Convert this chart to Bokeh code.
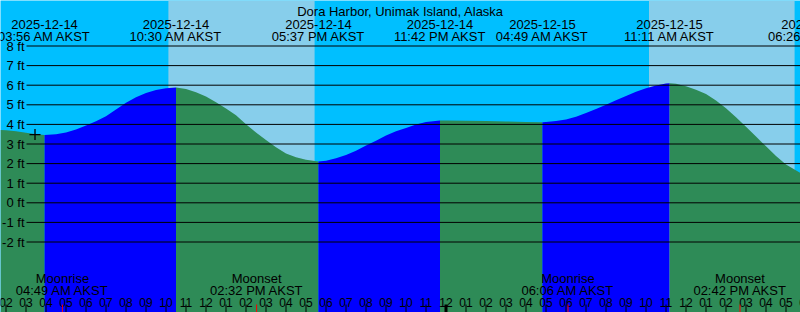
from bokeh.plotting import figure
from bokeh.models import Range1d
from bokeh.core.properties import value
from bokeh.embed import file_html
from bokeh.resources import INLINE

TITLE = "Dora Harbor, Unimak Island, Alaska"

# Tide curve: hours since 2025-12-14 00:00 AKST and height in ft
curve_hours = [1.72, 2, 2.5, 3, 3.5, 3.93, 4.5, 5, 5.5, 6, 6.5, 7, 7.5, 8, 8.5, 9, 9.5,
               10, 10.5, 11, 11.5, 12, 12.5, 13, 13.5, 14, 14.5, 15, 15.5, 16, 16.5,
               17, 17.62, 18, 18.5, 19, 19.5, 20, 20.5, 21, 21.5, 22, 22.5, 23, 23.7,
               24, 25, 26, 27, 28, 28.82, 29, 29.5, 30, 30.5, 31, 31.5, 32, 32.5, 33,
               33.5, 34, 34.5, 35, 35.18, 35.5, 36, 36.5, 37, 37.5, 38, 38.5, 39, 39.5,
               40, 40.5, 41, 41.75, 42.43]
curve_ft = [3.72, 3.70, 3.65, 3.58, 3.50, 3.46, 3.50, 3.59, 3.74, 3.94, 4.16, 4.42,
            4.76, 5.10, 5.38, 5.60, 5.75, 5.84, 5.88, 5.80, 5.64, 5.42, 5.13, 4.81,
            4.47, 4.01, 3.59, 3.20, 2.83, 2.52, 2.32, 2.20, 2.11, 2.15, 2.27, 2.44,
            2.66, 2.92, 3.17, 3.43, 3.65, 3.82, 3.99, 4.12, 4.20, 4.20, 4.19, 4.17,
            4.15, 4.12, 4.11, 4.12, 4.17, 4.25, 4.39, 4.58, 4.78, 5.00, 5.23, 5.45,
            5.66, 5.85, 5.99, 6.09, 6.10, 6.07, 5.95, 5.77, 5.55, 5.22, 4.82, 4.36,
            3.88, 3.38, 2.88, 2.39, 1.95, 1.51, 1.40]

# Tide extremes (hours since 2025-12-14 00:00)
tide_hours = [3.93, 10.5, 17.62, 23.7, 28.82, 35.18, 42.43]
tide_kind = ["low", "high", "low", "high", "low", "high", "low"]
tide_dates = ["2025-12-14", "2025-12-14", "2025-12-14", "2025-12-14",
              "2025-12-15", "2025-12-15", "2025-12-15"]
tide_times = ["03:56 AM AKST", "10:30 AM AKST", "05:37 PM AKST", "11:42 PM AKST",
              "04:49 AM AKST", "11:11 AM AKST", "06:26 PM AKST"]

# Daylight intervals
sunrise_hours = [10.12, 34.15]
sunset_hours = [17.43, 41.43]

# Moon events
moon_hours = [4.82, 14.53, 30.1, 38.7]
moon_names = ["Moonrise", "Moonset", "Moonrise", "Moonset"]
moon_times = ["04:49 AM AKST", "02:32 PM AKST", "06:06 AM AKST", "02:42 PM AKST"]

# Current time marker
now_hour = 3.45
now_ft = 3.48

ft_levels = [-2, -1, 0, 1, 2, 3, 4, 5, 6, 7, 8]
hour_ticks = list(range(2, 43))

# ---- layout constants ----
W, H = 800, 312
PX_PER_HR = 20.0
PX_PER_FT = 19.6
X0 = 5 - 65.5 / PX_PER_HR
X1 = X0 + W / PX_PER_HR
Y_TOP = 8 + 45.5 / PX_PER_FT
Y_BOT = Y_TOP - H / PX_PER_FT


def yat(px):
    return Y_TOP - px / PX_PER_FT


def xat(px):
    return X0 + px / PX_PER_HR


FONT = value("Liberation Sans")
SKY_NIGHT = "#00BFFF"
SKY_DAY = "#87CEEB"
RISE = "#0000FF"
FALL = "#2E8B57"

p = figure(width=W, height=H, x_range=Range1d(X0, X1), y_range=Range1d(Y_BOT, Y_TOP),
           output_backend="svg", toolbar_location=None, x_axis_type=None,
           y_axis_type=None, min_border=0, min_border_left=0, min_border_right=0,
           min_border_top=0, min_border_bottom=0,
           background_fill_color=SKY_NIGHT, border_fill_color=SKY_NIGHT,
           outline_line_color=None)
p.grid.visible = False

# daylight
p.quad(left=sunrise_hours, right=sunset_hours, bottom=Y_BOT, top=Y_TOP,
       fill_color=SKY_DAY, line_color=None)

# tide fills, split at extremes
bounds = [curve_hours[0]] + tide_hours
for i in range(len(bounds) - 1):
    a, b = bounds[i], bounds[i + 1]
    xs = [h for h in curve_hours if a <= h <= b]
    ys = [curve_ft[curve_hours.index(h)] for h in xs]
    color = RISE if tide_kind[i] == "high" else FALL
    p.varea(x=xs, y1=[Y_BOT] * len(xs), y2=ys, fill_color=color)

# grid lines
p.segment(x0=[xat(26)] * len(ft_levels), x1=[X1] * len(ft_levels),
          y0=ft_levels, y1=ft_levels, line_color="black", line_width=1)
p.text(x=[xat(24)] * len(ft_levels), y=ft_levels,
       text=["%d ft" % f for f in ft_levels], text_align="right",
       text_baseline="middle", text_font=FONT, text_font_size="13px",
       text_color="black")

# header
p.text(x=[(X0 + X1) / 2], y=[yat(11.3)], text=[TITLE], text_align="center",
       text_baseline="alphabetic", text_font=FONT, text_font_size="13px",
       text_color="black")
p.text(x=tide_hours, y=[yat(23.5)] * len(tide_hours), text=tide_dates,
       text_align="center", text_baseline="alphabetic", text_font=FONT,
       text_font_size="13px", text_color="black")
p.text(x=tide_hours, y=[yat(35.7)] * len(tide_hours), text=tide_times,
       text_align="center", text_baseline="alphabetic", text_font=FONT,
       text_font_size="13px", text_color="black")

# moon labels
p.text(x=moon_hours, y=[yat(278.3)] * len(moon_hours), text=moon_names,
       text_align="center", text_baseline="alphabetic", text_font=FONT,
       text_font_size="13px", text_color="black")
p.text(x=moon_hours, y=[yat(290.2)] * len(moon_hours), text=moon_times,
       text_align="center", text_baseline="alphabetic", text_font=FONT,
       text_font_size="13px", text_color="black")

# hour labels and ticks
p.text(x=hour_ticks, y=[yat(301.8)] * len(hour_ticks),
       text=["%02d" % (h % 12 or 12) for h in hour_ticks], text_align="center",
       text_baseline="alphabetic", text_font=FONT, text_font_size="12px",
       text_color="black")
tick_top = Y_BOT + 8 / PX_PER_FT
normal = [h for h in hour_ticks if h % 24 != 0]
midnight = [h for h in hour_ticks if h % 24 == 0]
p.segment(x0=normal, x1=normal, y0=[Y_BOT] * len(normal), y1=[tick_top] * len(normal),
          line_color="black", line_width=1)
p.segment(x0=midnight, x1=midnight, y0=[Y_BOT] * len(midnight),
          y1=[tick_top] * len(midnight), line_color="black", line_width=3)
p.segment(x0=moon_hours, x1=moon_hours, y0=[Y_BOT] * len(moon_hours),
          y1=[tick_top] * len(moon_hours), line_color="#FF0000", line_width=1)

# current time marker
p.scatter(x=[now_hour], y=[now_ft], marker="cross", size=11, line_color="black",
          line_width=1.3)

open("out.html", "w").write(file_html(p, INLINE))
